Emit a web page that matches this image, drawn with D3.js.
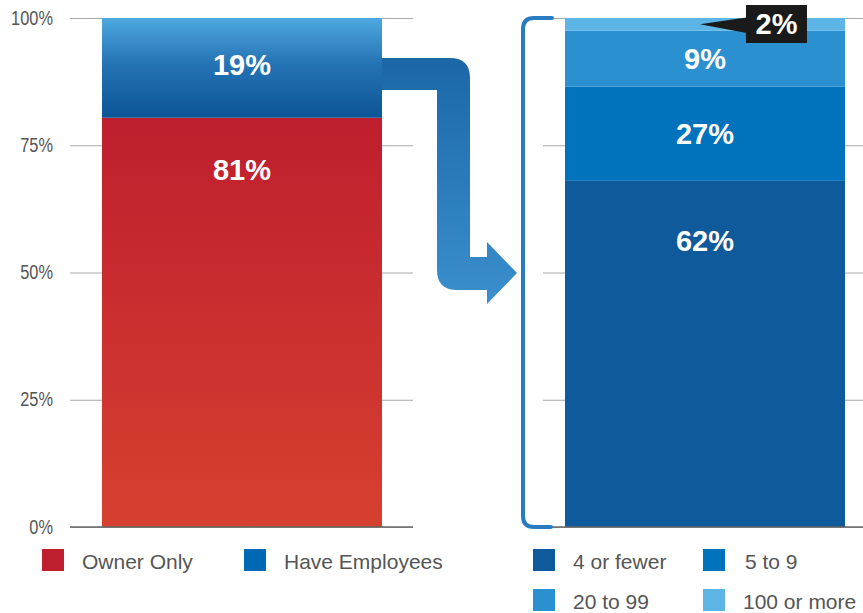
<!DOCTYPE html>
<html>
<head>
<meta charset="utf-8">
<script src="https://cdn.jsdelivr.net/npm/d3@7"></script>
<style>
  body { margin: 0; background: #fff; }
  svg text { font-family: "Liberation Sans", Arial, sans-serif; }
</style>
</head>
<body>
<div id="wrapper"></div>
<script>
// values
const yTicks = [0, 25, 50, 75, 100];
const barNames = ["all", "employers"];

const ownerCategories = ["Owner Only", "Have Employees"];
const ownerValues = [80.4, 19.6];   // heights as drawn
const ownerLabels = ["81%", "19%"];

const sizeCategories = ["4 or fewer", "5 to 9", "20 to 99", "100 or more"];
const sizeValues = [68, 18.5, 11, 2.5];   // heights as drawn
const sizeLabels = ["62%", "27%", "9%", "2%"];

const ownerColors = ["#c01f2f", "#0068b5"];
const sizeColors = ["#0e5a9a", "#0073bc", "#2a90d0", "#5db5e5"];

function buildChart() {
    const width = 863, height = 613;

    const svg = d3.select("#wrapper").append("svg")
        .attr("width", width)
        .attr("height", height);

    const defs = svg.append("defs");

    const yScale = d3.scaleLinear()
        .domain([0, 100])
        .range([527, 18]);

    const xScale = d3.scaleBand()
        .domain(barNames)
        .range([102, 845])
        .paddingInner(0.3952)
        .paddingOuter(0);

    // gradients
    const redGrad = defs.append("linearGradient").attr("id", "redGrad")
        .attr("x1", 0).attr("y1", 0).attr("x2", 0).attr("y2", 1);
    redGrad.append("stop").attr("offset", "0%").attr("stop-color", "#bf1e2e");
    redGrad.append("stop").attr("offset", "100%").attr("stop-color", "#d6402f");

    const blueGrad = defs.append("linearGradient").attr("id", "blueGrad")
        .attr("x1", 0).attr("y1", 0).attr("x2", 0).attr("y2", 1);
    blueGrad.append("stop").attr("offset", "0%").attr("stop-color", "#4ea8df");
    blueGrad.append("stop").attr("offset", "45%").attr("stop-color", "#2574b5");
    blueGrad.append("stop").attr("offset", "100%").attr("stop-color", "#0c5596");

    const arrowGrad = defs.append("linearGradient").attr("id", "arrowGrad")
        .attr("gradientUnits", "userSpaceOnUse")
        .attr("x1", 0).attr("y1", 58).attr("x2", 0).attr("y2", 303);
    arrowGrad.append("stop").attr("offset", "0%").attr("stop-color", "#1b67a8");
    arrowGrad.append("stop").attr("offset", "100%").attr("stop-color", "#3b8fcd");

    // gridlines, left panel
    const leftGrid = d3.axisLeft(yScale)
        .tickValues(yTicks)
        .tickFormat(d => d + "%")
        .tickSize(-(413 - 70))
        .tickPadding(17);

    const gl = svg.append("g")
        .attr("transform", "translate(70,0)")
        .call(leftGrid);
    gl.select(".domain").remove();
    gl.selectAll("line").attr("stroke", "#a8a8a8").attr("stroke-width", 1);
    // tick labels in the reference are condensed
    const squeeze = 0.84;
    gl.selectAll("text")
        .attr("fill", "#555")
        .attr("transform", `scale(${squeeze},1)`)
        .attr("x", -17 / squeeze)
        .style("font-size", "19.5px");

    // gridlines, right panel
    const rightGrid = d3.axisLeft(yScale)
        .tickValues(yTicks)
        .tickFormat("")
        .tickSize(-(863 - 543));
    const gr = svg.append("g")
        .attr("transform", "translate(543,0)")
        .call(rightGrid);
    gr.select(".domain").remove();
    gr.selectAll("line").attr("stroke", "#a8a8a8").attr("stroke-width", 1);

    // left stacked bar
    const ownerStack = [];
    let acc = 0;
    ownerValues.forEach((v, i) => {
        ownerStack.push({ y0: acc, y1: acc + v, label: ownerLabels[i], i: i });
        acc += v;
    });

    svg.append("g").selectAll("rect")
        .data(ownerStack)
        .join("rect")
        .attr("x", xScale("all"))
        .attr("width", xScale.bandwidth())
        .attr("y", d => yScale(Math.min(d.y1, 100)))
        .attr("height", d => yScale(d.y0) - yScale(Math.min(d.y1, 100)))
        .attr("fill", d => d.i === 0 ? "url(#redGrad)" : "url(#blueGrad)");

    // right stacked bar
    const sizeStack = [];
    acc = 0;
    sizeValues.forEach((v, i) => {
        sizeStack.push({ y0: acc, y1: acc + v, label: sizeLabels[i], i: i });
        acc += v;
    });

    svg.append("g").selectAll("rect")
        .data(sizeStack)
        .join("rect")
        .attr("x", xScale("employers"))
        .attr("width", xScale.bandwidth())
        .attr("y", d => yScale(d.y1))
        .attr("height", d => yScale(d.y0) - yScale(d.y1))
        .attr("fill", d => sizeColors[d.i]);

    // bottom axis lines
    svg.append("line")
        .attr("x1", 70).attr("x2", 413)
        .attr("y1", yScale(0)).attr("y2", yScale(0))
        .attr("stroke", "#666").attr("stroke-width", 1.5);
    svg.append("line")
        .attr("x1", 552).attr("x2", 863)
        .attr("y1", yScale(0)).attr("y2", yScale(0))
        .attr("stroke", "#666").attr("stroke-width", 1.5);

    // value labels
    const labelY = (d, off) => {
        const top = yScale(d.y1), bot = yScale(d.y0);
        return Math.min((top + bot) / 2, top + off);
    };

    svg.append("g").selectAll("text")
        .data(ownerStack)
        .join("text")
        .attr("x", xScale("all") + xScale.bandwidth() / 2)
        .attr("y", d => labelY(d, 55) - 3)
        .attr("text-anchor", "middle")
        .attr("dominant-baseline", "central")
        .attr("fill", "#fff")
        .style("font-size", "29px")
        .style("font-weight", "bold")
        .text(d => d.label);

    svg.append("g").selectAll("text")
        .data(sizeStack.filter(d => d.i < 3))
        .join("text")
        .attr("x", xScale("employers") + xScale.bandwidth() / 2)
        .attr("y", d => labelY(d, 60))
        .attr("text-anchor", "middle")
        .attr("dominant-baseline", "central")
        .attr("fill", "#fff")
        .style("font-size", "29px")
        .style("font-weight", "bold")
        .text(d => d.label);

    // 2% callout
    const last = sizeStack[3];
    const tipX = xScale("employers") + 135;
    const tipY = (yScale(last.y1) + yScale(last.y0)) / 2;
    const boxX = tipX + 46, boxW = 61, boxTop = 5, boxH = 38;
    svg.append("path")
        .attr("d", `M${tipX},${tipY} L${boxX + 2},${tipY - 7} L${boxX + 2},${tipY + 9} Z`)
        .attr("fill", "#1a1a1a");
    svg.append("rect")
        .attr("x", boxX).attr("y", boxTop)
        .attr("width", boxW).attr("height", boxH)
        .attr("fill", "#1a1a1a");
    svg.append("text")
        .attr("x", boxX + boxW / 2)
        .attr("y", boxTop + boxH / 2)
        .attr("text-anchor", "middle")
        .attr("dominant-baseline", "central")
        .attr("fill", "#fff")
        .style("font-size", "29px")
        .style("font-weight", "bold")
        .text(last.label);

    // arrow from left bar to right bracket
    const ax = xScale("all") + xScale.bandwidth();
    const arrow = d3.path();
    arrow.moveTo(ax, 58);
    arrow.lineTo(450, 58);
    arrow.quadraticCurveTo(470, 58, 470, 78);
    arrow.lineTo(470, 257);
    arrow.lineTo(487, 257);
    arrow.lineTo(487, 242);
    arrow.lineTo(517, 273);
    arrow.lineTo(487, 304);
    arrow.lineTo(487, 290);
    arrow.lineTo(457, 290);
    arrow.quadraticCurveTo(437, 290, 437, 270);
    arrow.lineTo(437, 90);
    arrow.lineTo(ax, 90);
    arrow.closePath();
    svg.append("path")
        .attr("d", arrow.toString())
        .attr("fill", "url(#arrowGrad)");

    // bracket
    const bracket = d3.path();
    bracket.moveTo(552, yScale(100));
    bracket.lineTo(534, yScale(100));
    bracket.quadraticCurveTo(523, yScale(100), 523, yScale(100) + 11);
    bracket.lineTo(523, yScale(0) - 11);
    bracket.quadraticCurveTo(523, yScale(0), 534, yScale(0));
    bracket.lineTo(551, yScale(0));
    svg.append("path")
        .attr("d", bracket.toString())
        .attr("fill", "none")
        .attr("stroke", "#2a7cc0")
        .attr("stroke-width", 4)
        .attr("stroke-linecap", "round");

    // legends
    const legendLeft = svg.append("g").selectAll("g")
        .data(ownerCategories)
        .join("g")
        .attr("transform", (d, i) => `translate(${[42, 244][i]},549)`);
    legendLeft.append("rect")
        .attr("width", 22).attr("height", 22)
        .attr("fill", (d, i) => ownerColors[i]);
    legendLeft.append("text")
        .attr("x", 40).attr("y", 12)
        .attr("dominant-baseline", "central")
        .attr("fill", "#555")
        .style("font-size", "21px")
        .text(d => d);

    const legendRight = svg.append("g").selectAll("g")
        .data(sizeCategories)
        .join("g")
        .attr("transform", (d, i) => `translate(${[533, 703][i % 2]},${[549, 589][Math.floor(i / 2)]})`);
    legendRight.append("rect")
        .attr("width", 22).attr("height", 22)
        .attr("fill", (d, i) => sizeColors[i]);
    legendRight.append("text")
        .attr("x", (d, i) => i === 1 ? 42 : 40)
        .attr("y", 12)
        .attr("dominant-baseline", "central")
        .attr("fill", "#555")
        .style("font-size", "21px")
        .text(d => d);
}

buildChart();
</script>
</body>
</html>
